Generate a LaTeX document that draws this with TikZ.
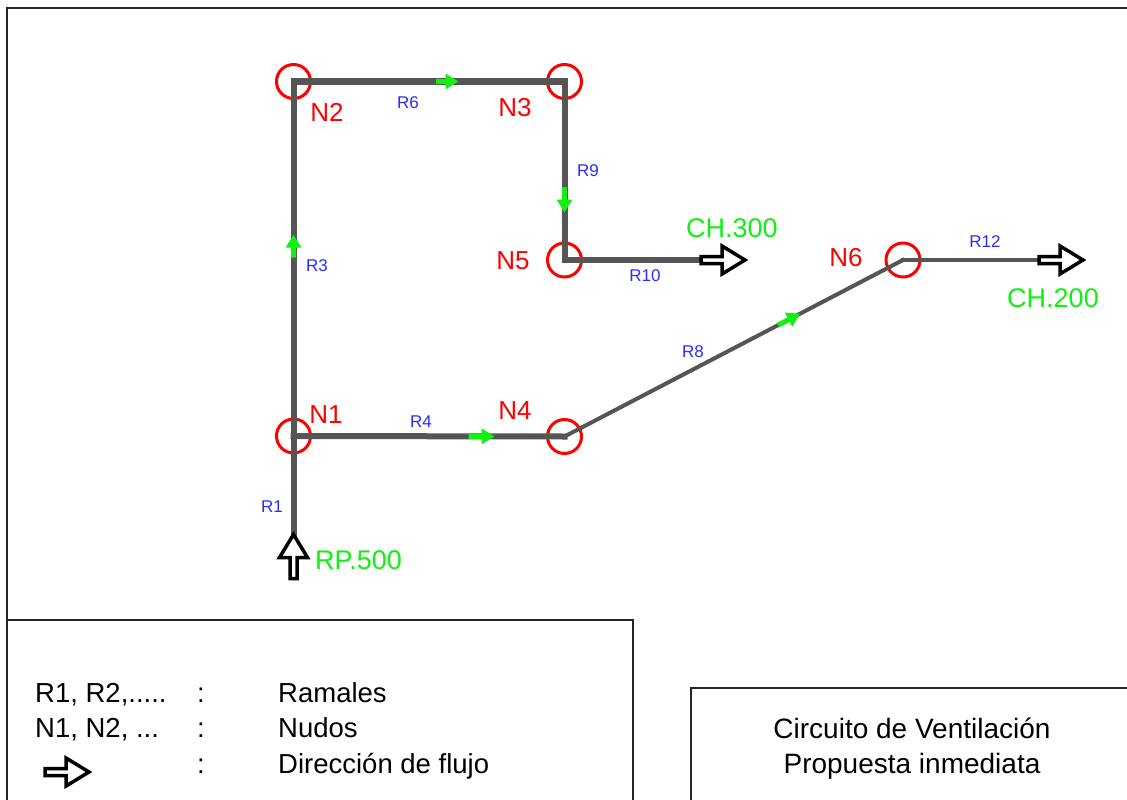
\documentclass[tikz,border=0pt]{standalone}
\usepackage{fontspec}
\setmainfont{Liberation Sans}
\usetikzlibrary{arrows.meta,calc}
\definecolor{pipegray}{HTML}{555555}
\definecolor{nred}{HTML}{FF0000}
\definecolor{rblue}{HTML}{2B2BFF}
\definecolor{fgreen}{HTML}{11F011}
\begin{document}
\begin{tikzpicture}[x=1pt,y=-1pt,
  nodo/.style={circle, draw=nred, line width=3pt, minimum size=34pt, inner sep=0pt},
  pipe/.style={draw=pipegray, line width=6pt, line cap=rect},
  thinpipe/.style={draw=pipegray, line width=4pt, line cap=rect},
  nlabel/.style={text=nred, font=\fontsize{26}{30}\selectfont, inner sep=0pt},
  rlabel/.style={text=rblue, font=\fontsize{17}{20}\selectfont, inner sep=0pt},
  glabel/.style={text=fgreen, font=\fontsize{27}{31}\selectfont, inner sep=0pt},
  flow/.style={draw=fgreen, line width=5pt, -{Triangle[length=13pt,width=15pt]}},
  legtext/.style={font=\fontsize{27.5}{32}\selectfont, inner sep=0pt, anchor=base west},
  titletext/.style={font=\fontsize{28}{32}\selectfont, inner sep=0pt, anchor=base},
  frameline/.style={draw=black!85, line width=1.8pt},
  blockarrow/.pic={\draw[black, fill=white, line width=3.5pt, line join=miter]
     (0,-3.5) -- (21,-3.5) -- (21,-14) -- (44,0) -- (21,14) -- (21,3.5) -- (0,3.5) -- cycle;}
]
\useasboundingbox (0,0) rectangle (1127,800);

% frames
\draw[frameline] (7,800) -- (7,8) -- (1127,8);
\draw[frameline] (7,620) -- (633,620) -- (633,800);
\draw[frameline] (691,800) -- (691,688) -- (1127,688);

% nodes (junctions)
\node[nodo] (n1) at (293.5,436) {};
\node[nodo] (n2) at (293.5,81.5) {};
\node[nodo] (n3) at (564.5,81.5) {};
\node[nodo] (n4) at (564.5,436.5) {};
\node[nodo] (n5) at (564.5,260) {};
\node[nodo] (n6) at (903,260) {};
\coordinate (in) at (293.5,534);
\coordinate (out5) at (701,260);
\coordinate (out6) at (1039,260);

% branches
\draw[pipe] (in) -- (n1.center);
\draw[pipe] (n1.center) -- (n2.center);
\draw[pipe] (n2.center) -- (n3.center);
\draw[pipe] (n3.center) -- (n5.center);
\draw[pipe] (n5.center) -- (out5);
\draw[pipe] (n1.center) -- (n4.center);
\draw[thinpipe] (n4.center) -- (n6.center);
\draw[thinpipe] (n6.center) -- (out6);

% flow directions
\draw[flow] ($(n1.center)!0.503!(n2.center)$) -- ($(n1.center)!0.568!(n2.center)$);
\draw[flow] ($(n2.center)!0.524!(n3.center)$) -- ($(n2.center)!0.609!(n3.center)$);
\draw[flow] ($(n3.center)!0.593!(n5.center)$) -- ($(n3.center)!0.734!(n5.center)$);
\draw[flow] ($(n1.center)!0.646!(n4.center)$) -- ($(n1.center)!0.742!(n4.center)$);
\draw[flow] ($(n4.center)!0.631!(n6.center)$) -- ($(n4.center)!0.696!(n6.center)$);

% inlet / outlet arrows
\pic[rotate=90] at (293.5,578.5) {blockarrow};
\pic at (701,260) {blockarrow};
\pic at (1039,260) {blockarrow};

% node labels
\node[nlabel] (ln1) at (326,415) {N1};
\node[nlabel] (ln2) at (327,112) {N2};
\node[nlabel] (ln3) at (515,108) {N3};
\node[nlabel] (ln4) at (515,411) {N4};
\node[nlabel] (ln5) at (513,261) {N5};
\node[nlabel] (ln6) at (846,258) {N6};

% branch labels
\node[rlabel] (lr1) at (272,507) {R1};
\node[rlabel] (lr3) at (317,266) {R3};
\node[rlabel] (lr4) at (421,422) {R4};
\node[rlabel] (lr6) at (408,103) {R6};
\node[rlabel] (lr8) at (693,352) {R8};
\node[rlabel] (lr9) at (588,171) {R9};
\node[rlabel] (lr10) at (645,276) {R10};
\node[rlabel] (lr12) at (985,242) {R12};

% flow values
\node[glabel, anchor=west] (rp) at (315,560) {RP.500};
\node[glabel, anchor=west] (ch3) at (686,228) {CH.300};
\node[glabel] (ch2) at (1053,298) {CH.200};

% legend
\node[legtext] (la1) at (35,702) {R1, R2,.....};
\node[legtext] (lb1) at (197,702) {:};
\node[legtext] (lc1) at (278,702) {Ramales};
\node[legtext] (la2) at (35,737) {N1, N2, ...};
\node[legtext] (lb2) at (197,737) {:};
\node[legtext] (lc2) at (278,737) {Nudos};
\pic at (45,772) {blockarrow};
\node[legtext] (lb3) at (197,773) {:};
\node[legtext] (lc3) at (278,773) {Dirección de flujo};

% title
\node[titletext] (t1) at (912,738) {Circuito de Ventilación};
\node[titletext] (t2) at (912,773) {Propuesta inmediata};
\end{tikzpicture}
\end{document}
